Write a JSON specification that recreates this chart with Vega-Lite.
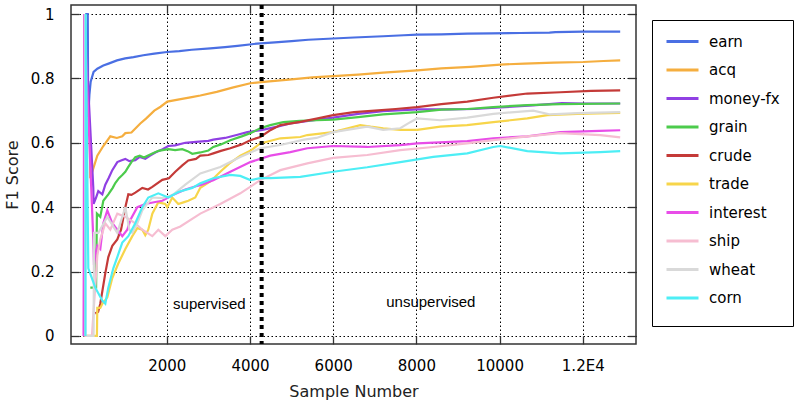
{
"$schema": "https://vega.github.io/schema/vega-lite/v6.json",
"width": 565, "height": 339,
"autosize": "none",
"padding": {"left": 71, "top": 5, "right": 161, "bottom": 64},
"config": {"view": {"stroke": "#333", "strokeWidth": 1.5}, "font": "DejaVu Sans"},
"datasets": {
"lines": [
{"s":"earn","x":40,"y":1},{"s":"earn","x":100,"y":1},{"s":"earn","x":110,"y":0.68},{"s":"earn","x":140,"y":0.75},{"s":"earn","x":170,"y":0.79},{"s":"earn","x":240,"y":0.82},{"s":"earn","x":330,"y":0.83},{"s":"earn","x":474,"y":0.84},{"s":"earn","x":600,"y":0.846},{"s":"earn","x":803,"y":0.856},{"s":"earn","x":1000,"y":0.862},{"s":"earn","x":1200,"y":0.866},{"s":"earn","x":1435,"y":0.872},{"s":"earn","x":1700,"y":0.877},{"s":"earn","x":2005,"y":0.882},{"s":"earn","x":2300,"y":0.885},{"s":"earn","x":2600,"y":0.889},{"s":"earn","x":3046,"y":0.893},{"s":"earn","x":3400,"y":0.897},{"s":"earn","x":3700,"y":0.901},{"s":"earn","x":4169,"y":0.908},{"s":"earn","x":4600,"y":0.912},{"s":"earn","x":5000,"y":0.916},{"s":"earn","x":5400,"y":0.92},{"s":"earn","x":6000,"y":0.924},{"s":"earn","x":6500,"y":0.927},{"s":"earn","x":7200,"y":0.931},{"s":"earn","x":7700,"y":0.934},{"s":"earn","x":8021,"y":0.936},{"s":"earn","x":8600,"y":0.937},{"s":"earn","x":9224,"y":0.939},{"s":"earn","x":9800,"y":0.94},{"s":"earn","x":10500,"y":0.941},{"s":"earn","x":11200,"y":0.942},{"s":"earn","x":11340,"y":0.944},{"s":"earn","x":12000,"y":0.945},{"s":"earn","x":12900,"y":0.945},

{"s":"acq","x":150,"y":0.62},{"s":"acq","x":160,"y":0.49},{"s":"acq","x":233,"y":0.52},{"s":"acq","x":329,"y":0.56},{"s":"acq","x":474,"y":0.59},{"s":"acq","x":642,"y":0.62},{"s":"acq","x":800,"y":0.615},{"s":"acq","x":930,"y":0.62},{"s":"acq","x":1003,"y":0.63},{"s":"acq","x":1150,"y":0.632},{"s":"acq","x":1363,"y":0.66},{"s":"acq","x":1500,"y":0.675},{"s":"acq","x":1700,"y":0.7},{"s":"acq","x":1850,"y":0.712},{"s":"acq","x":2012,"y":0.728},{"s":"acq","x":2300,"y":0.735},{"s":"acq","x":2600,"y":0.742},{"s":"acq","x":2806,"y":0.747},{"s":"acq","x":3200,"y":0.758},{"s":"acq","x":3600,"y":0.772},{"s":"acq","x":4008,"y":0.785},{"s":"acq","x":4400,"y":0.79},{"s":"acq","x":5000,"y":0.797},{"s":"acq","x":5500,"y":0.803},{"s":"acq","x":6000,"y":0.807},{"s":"acq","x":6600,"y":0.812},{"s":"acq","x":7200,"y":0.818},{"s":"acq","x":8021,"y":0.825},{"s":"acq","x":8600,"y":0.831},{"s":"acq","x":9300,"y":0.836},{"s":"acq","x":10018,"y":0.843},{"s":"acq","x":10600,"y":0.846},{"s":"acq","x":11300,"y":0.849},{"s":"acq","x":12012,"y":0.851},{"s":"acq","x":12500,"y":0.854},{"s":"acq","x":12900,"y":0.856},

{"s":"money-fx","x":10,"y":0},{"s":"money-fx","x":20,"y":1},{"s":"money-fx","x":233,"y":0.46},{"s":"money-fx","x":240,"y":0.41},{"s":"money-fx","x":300,"y":0.43},{"s":"money-fx","x":353,"y":0.45},{"s":"money-fx","x":450,"y":0.44},{"s":"money-fx","x":522,"y":0.47},{"s":"money-fx","x":600,"y":0.49},{"s":"money-fx","x":690,"y":0.515},{"s":"money-fx","x":810,"y":0.54},{"s":"money-fx","x":900,"y":0.545},{"s":"money-fx","x":1003,"y":0.55},{"s":"money-fx","x":1100,"y":0.543},{"s":"money-fx","x":1243,"y":0.546},{"s":"money-fx","x":1350,"y":0.556},{"s":"money-fx","x":1483,"y":0.55},{"s":"money-fx","x":1600,"y":0.56},{"s":"money-fx","x":1724,"y":0.57},{"s":"money-fx","x":1900,"y":0.58},{"s":"money-fx","x":2036,"y":0.59},{"s":"money-fx","x":2200,"y":0.592},{"s":"money-fx","x":2445,"y":0.6},{"s":"money-fx","x":2700,"y":0.603},{"s":"money-fx","x":3000,"y":0.606},{"s":"money-fx","x":3118,"y":0.61},{"s":"money-fx","x":3400,"y":0.615},{"s":"money-fx","x":3700,"y":0.625},{"s":"money-fx","x":3936,"y":0.633},{"s":"money-fx","x":4300,"y":0.64},{"s":"money-fx","x":4657,"y":0.65},{"s":"money-fx","x":4969,"y":0.66},{"s":"money-fx","x":5400,"y":0.668},{"s":"money-fx","x":6000,"y":0.678},{"s":"money-fx","x":6600,"y":0.69},{"s":"money-fx","x":7200,"y":0.698},{"s":"money-fx","x":8021,"y":0.704},{"s":"money-fx","x":8800,"y":0.704},{"s":"money-fx","x":9400,"y":0.705},{"s":"money-fx","x":10018,"y":0.71},{"s":"money-fx","x":10800,"y":0.716},{"s":"money-fx","x":11500,"y":0.723},{"s":"money-fx","x":12012,"y":0.722},{"s":"money-fx","x":12900,"y":0.722},

{"s":"grain","x":161,"y":0.15},{"s":"grain","x":300,"y":0.15},{"s":"grain","x":320,"y":0.38},{"s":"grain","x":401,"y":0.37},{"s":"grain","x":474,"y":0.42},{"s":"grain","x":594,"y":0.44},{"s":"grain","x":700,"y":0.46},{"s":"grain","x":762,"y":0.475},{"s":"grain","x":850,"y":0.49},{"s":"grain","x":930,"y":0.5},{"s":"grain","x":1003,"y":0.51},{"s":"grain","x":1075,"y":0.525},{"s":"grain","x":1150,"y":0.54},{"s":"grain","x":1243,"y":0.555},{"s":"grain","x":1350,"y":0.56},{"s":"grain","x":1450,"y":0.554},{"s":"grain","x":1652,"y":0.567},{"s":"grain","x":1800,"y":0.575},{"s":"grain","x":2036,"y":0.58},{"s":"grain","x":2200,"y":0.577},{"s":"grain","x":2373,"y":0.58},{"s":"grain","x":2500,"y":0.574},{"s":"grain","x":2613,"y":0.566},{"s":"grain","x":2806,"y":0.57},{"s":"grain","x":3000,"y":0.576},{"s":"grain","x":3118,"y":0.587},{"s":"grain","x":3300,"y":0.595},{"s":"grain","x":3527,"y":0.608},{"s":"grain","x":3800,"y":0.62},{"s":"grain","x":4008,"y":0.63},{"s":"grain","x":4248,"y":0.645},{"s":"grain","x":4488,"y":0.655},{"s":"grain","x":4800,"y":0.664},{"s":"grain","x":5200,"y":0.668},{"s":"grain","x":5600,"y":0.67},{"s":"grain","x":6000,"y":0.672},{"s":"grain","x":6600,"y":0.68},{"s":"grain","x":7200,"y":0.688},{"s":"grain","x":8021,"y":0.695},{"s":"grain","x":8600,"y":0.703},{"s":"grain","x":9224,"y":0.705},{"s":"grain","x":9850,"y":0.711},{"s":"grain","x":10667,"y":0.717},{"s":"grain","x":11460,"y":0.72},{"s":"grain","x":12900,"y":0.722},

{"s":"crude","x":281,"y":0.07},{"s":"crude","x":350,"y":0.075},{"s":"crude","x":401,"y":0.1},{"s":"crude","x":522,"y":0.195},{"s":"crude","x":594,"y":0.245},{"s":"crude","x":690,"y":0.28},{"s":"crude","x":810,"y":0.3},{"s":"crude","x":900,"y":0.33},{"s":"crude","x":1003,"y":0.4},{"s":"crude","x":1075,"y":0.44},{"s":"crude","x":1150,"y":0.438},{"s":"crude","x":1243,"y":0.445},{"s":"crude","x":1411,"y":0.46},{"s":"crude","x":1550,"y":0.455},{"s":"crude","x":1652,"y":0.463},{"s":"crude","x":1892,"y":0.485},{"s":"crude","x":2050,"y":0.49},{"s":"crude","x":2204,"y":0.51},{"s":"crude","x":2373,"y":0.53},{"s":"crude","x":2517,"y":0.545},{"s":"crude","x":2700,"y":0.55},{"s":"crude","x":2806,"y":0.56},{"s":"crude","x":3000,"y":0.562},{"s":"crude","x":3118,"y":0.567},{"s":"crude","x":3300,"y":0.575},{"s":"crude","x":3527,"y":0.583},{"s":"crude","x":3800,"y":0.595},{"s":"crude","x":4008,"y":0.608},{"s":"crude","x":4248,"y":0.618},{"s":"crude","x":4500,"y":0.64},{"s":"crude","x":4729,"y":0.655},{"s":"crude","x":5210,"y":0.665},{"s":"crude","x":5600,"y":0.675},{"s":"crude","x":6000,"y":0.686},{"s":"crude","x":6500,"y":0.695},{"s":"crude","x":7000,"y":0.7},{"s":"crude","x":7500,"y":0.705},{"s":"crude","x":8021,"y":0.711},{"s":"crude","x":8600,"y":0.72},{"s":"crude","x":9224,"y":0.728},{"s":"crude","x":9850,"y":0.74},{"s":"crude","x":10667,"y":0.753},{"s":"crude","x":11460,"y":0.757},{"s":"crude","x":12200,"y":0.761},{"s":"crude","x":12900,"y":0.763},

{"s":"trade","x":65,"y":0},{"s":"trade","x":320,"y":0},{"s":"trade","x":329,"y":0.087},{"s":"trade","x":401,"y":0.087},{"s":"trade","x":450,"y":0.1},{"s":"trade","x":570,"y":0.12},{"s":"trade","x":690,"y":0.18},{"s":"trade","x":834,"y":0.225},{"s":"trade","x":1003,"y":0.27},{"s":"trade","x":1171,"y":0.31},{"s":"trade","x":1291,"y":0.335},{"s":"trade","x":1411,"y":0.33},{"s":"trade","x":1483,"y":0.313},{"s":"trade","x":1555,"y":0.33},{"s":"trade","x":1652,"y":0.38},{"s":"trade","x":1796,"y":0.415},{"s":"trade","x":1964,"y":0.41},{"s":"trade","x":2012,"y":0.4},{"s":"trade","x":2132,"y":0.43},{"s":"trade","x":2277,"y":0.41},{"s":"trade","x":2400,"y":0.415},{"s":"trade","x":2517,"y":0.42},{"s":"trade","x":2685,"y":0.43},{"s":"trade","x":2806,"y":0.46},{"s":"trade","x":3046,"y":0.48},{"s":"trade","x":3286,"y":0.51},{"s":"trade","x":3500,"y":0.535},{"s":"trade","x":3767,"y":0.56},{"s":"trade","x":4008,"y":0.575},{"s":"trade","x":4248,"y":0.598},{"s":"trade","x":4729,"y":0.614},{"s":"trade","x":5210,"y":0.618},{"s":"trade","x":5378,"y":0.624},{"s":"trade","x":6000,"y":0.633},{"s":"trade","x":6650,"y":0.655},{"s":"trade","x":6900,"y":0.65},{"s":"trade","x":7203,"y":0.645},{"s":"trade","x":7612,"y":0.64},{"s":"trade","x":8021,"y":0.64},{"s":"trade","x":8574,"y":0.65},{"s":"trade","x":9217,"y":0.655},{"s":"trade","x":9850,"y":0.664},{"s":"trade","x":10667,"y":0.676},{"s":"trade","x":11148,"y":0.686},{"s":"trade","x":11869,"y":0.69},{"s":"trade","x":12900,"y":0.693},

{"s":"interest","x":0,"y":0},{"s":"interest","x":15,"y":1},{"s":"interest","x":233,"y":0.3},{"s":"interest","x":250,"y":0.22},{"s":"interest","x":280,"y":0.25},{"s":"interest","x":330,"y":0.28},{"s":"interest","x":401,"y":0.27},{"s":"interest","x":474,"y":0.35},{"s":"interest","x":570,"y":0.39},{"s":"interest","x":690,"y":0.35},{"s":"interest","x":810,"y":0.33},{"s":"interest","x":930,"y":0.31},{"s":"interest","x":1050,"y":0.33},{"s":"interest","x":1123,"y":0.36},{"s":"interest","x":1291,"y":0.4},{"s":"interest","x":1483,"y":0.41},{"s":"interest","x":1724,"y":0.416},{"s":"interest","x":1892,"y":0.42},{"s":"interest","x":2132,"y":0.437},{"s":"interest","x":2445,"y":0.455},{"s":"interest","x":2700,"y":0.465},{"s":"interest","x":2806,"y":0.468},{"s":"interest","x":3118,"y":0.484},{"s":"interest","x":3527,"y":0.51},{"s":"interest","x":4008,"y":0.54},{"s":"interest","x":4488,"y":0.56},{"s":"interest","x":4969,"y":0.571},{"s":"interest","x":5378,"y":0.583},{"s":"interest","x":6000,"y":0.59},{"s":"interest","x":6818,"y":0.587},{"s":"interest","x":7612,"y":0.593},{"s":"interest","x":8021,"y":0.598},{"s":"interest","x":9224,"y":0.605},{"s":"interest","x":9850,"y":0.614},{"s":"interest","x":10667,"y":0.62},{"s":"interest","x":11460,"y":0.633},{"s":"interest","x":12400,"y":0.637},{"s":"interest","x":12900,"y":0.639},

{"s":"ship","x":30,"y":1},{"s":"ship","x":40,"y":0},{"s":"ship","x":200,"y":0},{"s":"ship","x":330,"y":0.25},{"s":"ship","x":401,"y":0.3},{"s":"ship","x":522,"y":0.35},{"s":"ship","x":642,"y":0.33},{"s":"ship","x":810,"y":0.38},{"s":"ship","x":1003,"y":0.37},{"s":"ship","x":1243,"y":0.35},{"s":"ship","x":1411,"y":0.33},{"s":"ship","x":1652,"y":0.31},{"s":"ship","x":1796,"y":0.33},{"s":"ship","x":1964,"y":0.31},{"s":"ship","x":2132,"y":0.33},{"s":"ship","x":2325,"y":0.34},{"s":"ship","x":2806,"y":0.38},{"s":"ship","x":3286,"y":0.41},{"s":"ship","x":3767,"y":0.443},{"s":"ship","x":4248,"y":0.484},{"s":"ship","x":4729,"y":0.515},{"s":"ship","x":5378,"y":0.536},{"s":"ship","x":6000,"y":0.553},{"s":"ship","x":6818,"y":0.562},{"s":"ship","x":7612,"y":0.577},{"s":"ship","x":8406,"y":0.587},{"s":"ship","x":9217,"y":0.598},{"s":"ship","x":9850,"y":0.608},{"s":"ship","x":10667,"y":0.62},{"s":"ship","x":11460,"y":0.63},{"s":"ship","x":12420,"y":0.624},{"s":"ship","x":12900,"y":0.617},

{"s":"wheat","x":60,"y":0},{"s":"wheat","x":240,"y":0},{"s":"wheat","x":250,"y":0.32},{"s":"wheat","x":353,"y":0.32},{"s":"wheat","x":570,"y":0.37},{"s":"wheat","x":810,"y":0.32},{"s":"wheat","x":1003,"y":0.4},{"s":"wheat","x":1100,"y":0.33},{"s":"wheat","x":1171,"y":0.32},{"s":"wheat","x":1291,"y":0.35},{"s":"wheat","x":1411,"y":0.39},{"s":"wheat","x":1555,"y":0.415},{"s":"wheat","x":1652,"y":0.43},{"s":"wheat","x":1892,"y":0.428},{"s":"wheat","x":2132,"y":0.437},{"s":"wheat","x":2445,"y":0.47},{"s":"wheat","x":2806,"y":0.505},{"s":"wheat","x":3286,"y":0.525},{"s":"wheat","x":3767,"y":0.556},{"s":"wheat","x":4248,"y":0.583},{"s":"wheat","x":4729,"y":0.593},{"s":"wheat","x":5300,"y":0.61},{"s":"wheat","x":5600,"y":0.615},{"s":"wheat","x":6000,"y":0.633},{"s":"wheat","x":6818,"y":0.65},{"s":"wheat","x":7203,"y":0.64},{"s":"wheat","x":7612,"y":0.645},{"s":"wheat","x":7853,"y":0.664},{"s":"wheat","x":8021,"y":0.676},{"s":"wheat","x":8574,"y":0.67},{"s":"wheat","x":9224,"y":0.678},{"s":"wheat","x":9850,"y":0.69},{"s":"wheat","x":10811,"y":0.7},{"s":"wheat","x":11220,"y":0.688},{"s":"wheat","x":11869,"y":0.692},{"s":"wheat","x":12900,"y":0.695},

{"s":"corn","x":45,"y":0},{"s":"corn","x":50,"y":1},{"s":"corn","x":113,"y":0.21},{"s":"corn","x":281,"y":0.15},{"s":"corn","x":450,"y":0.11},{"s":"corn","x":522,"y":0.1},{"s":"corn","x":594,"y":0.15},{"s":"corn","x":714,"y":0.21},{"s":"corn","x":810,"y":0.245},{"s":"corn","x":930,"y":0.29},{"s":"corn","x":1075,"y":0.31},{"s":"corn","x":1243,"y":0.35},{"s":"corn","x":1411,"y":0.4},{"s":"corn","x":1555,"y":0.43},{"s":"corn","x":1796,"y":0.443},{"s":"corn","x":2036,"y":0.43},{"s":"corn","x":2277,"y":0.447},{"s":"corn","x":2613,"y":0.46},{"s":"corn","x":2806,"y":0.474},{"s":"corn","x":3118,"y":0.49},{"s":"corn","x":3527,"y":0.5},{"s":"corn","x":3767,"y":0.497},{"s":"corn","x":4008,"y":0.484},{"s":"corn","x":4250,"y":0.49},{"s":"corn","x":4488,"y":0.49},{"s":"corn","x":5210,"y":0.494},{"s":"corn","x":6000,"y":0.51},{"s":"corn","x":6818,"y":0.524},{"s":"corn","x":7612,"y":0.54},{"s":"corn","x":8406,"y":0.556},{"s":"corn","x":9224,"y":0.567},{"s":"corn","x":9850,"y":0.587},{"s":"corn","x":10018,"y":0.59},{"s":"corn","x":10667,"y":0.574},{"s":"corn","x":11460,"y":0.567},{"s":"corn","x":12420,"y":0.571},{"s":"corn","x":12900,"y":0.574}
],
"split": [{"x": 4280}],
"labels": [{"x": 3022, "y": 0.1, "t": "supervised"}, {"x": 8347, "y": 0.105, "t": "unsupervised"}]
},
"layer": [
{
"data": {"name": "lines"},
"mark": {"type": "line", "strokeWidth": 2.2},
"encoding": {
"x": {"field": "x", "type": "quantitative", "scale": {"domain": [-303, 13280], "nice": false, "zero": false},
 "axis": {"orient": "bottom", "values": [2000,4000,6000,8000,10000,12000], "labelExpr": "datum.value == 12000 ? '1.2E4' : format(datum.value, 'd')", "grid": true, "gridColor": "black", "gridDash": [1.5,2.5], "gridOpacity": 1, "domain": false, "tickSize": -8, "tickColor": "#333", "tickWidth": 1.3, "labelPadding": 22, "labelFontSize": 15, "labelColor": "black", "labelFont": "DejaVu Sans", "title": "Sample Number", "titleFont": "DejaVu Sans", "titleFontSize": 16, "titleFontWeight": "normal", "titleColor": "#222", "titlePadding": 10}},
"y": {"field": "y", "type": "quantitative", "scale": {"domain": [-0.025, 1.028], "nice": false, "zero": false},
 "axis": {"orient": "left", "values": [0,0.2,0.4,0.6,0.8,1], "labelExpr": "format(datum.value, '~g')", "grid": true, "gridColor": "black", "gridDash": [1.5,2.5], "gridOpacity": 1, "domain": false, "tickSize": -8, "tickColor": "#333", "tickWidth": 1.3, "labelPadding": 25, "labelFontSize": 15, "labelColor": "black", "labelFont": "DejaVu Sans", "title": "F1 Score", "titleFont": "DejaVu Sans", "titleFontSize": 16, "titleFontWeight": "normal", "titleColor": "#222", "titlePadding": 10}},
"color": {"field": "s", "type": "nominal",
 "scale": {"domain": ["earn","acq","money-fx","grain","crude","trade","interest","ship","wheat","corn"], "range": ["#4a6fe3","#f5ae3f","#9040e3","#4ccb4c","#c43a38","#f7d54a","#e84de8","#f6bdd1","#d9d9d9","#4deef5"]},
 "legend": {"orient": "none", "legendX": 581, "legendY": 15, "title": " ", "titleOrient": "bottom", "titleFontSize": 4, "titlePadding": 2, "symbolType": "stroke", "symbolSize": 1024, "symbolStrokeWidth": 3, "clipHeight": 17, "labelFontSize": 15, "labelFont": "DejaVu Sans", "labelColor": "black", "strokeColor": "black", "fillColor": "white", "padding": 13, "rowPadding": 11.5, "labelOffset": 9}}
}
},
{
"data": {"name": "split"},
"mark": {"type": "rule", "color": "black", "strokeWidth": 4, "strokeDash": [4,4]},
"encoding": {
"x": {"field": "x", "type": "quantitative", "scale": {"domain": [-303, 13280], "nice": false, "zero": false},
 "axis": {"orient": "top", "values": [2000,4000,6000,8000,10000,12000], "labels": false, "grid": false, "domain": false, "tickSize": -8, "tickColor": "#333", "tickWidth": 1.3, "title": null}}
}
},
{
"data": {"name": "labels"},
"mark": {"type": "text", "font": "Liberation Sans", "fontSize": 15, "color": "black"},
"encoding": {
"x": {"field": "x", "type": "quantitative", "scale": {"domain": [-303, 13280], "nice": false, "zero": false}, "axis": null},
"y": {"field": "y", "type": "quantitative", "scale": {"domain": [-0.025, 1.028], "nice": false, "zero": false},
 "axis": {"orient": "right", "values": [0,0.2,0.4,0.6,0.8,1], "labels": false, "grid": false, "domain": false, "tickSize": -8, "tickColor": "#333", "tickWidth": 1.3, "title": null}},
"text": {"field": "t"}
}
}
],
"resolve": {"axis": {"x": "independent", "y": "independent"}}
}
